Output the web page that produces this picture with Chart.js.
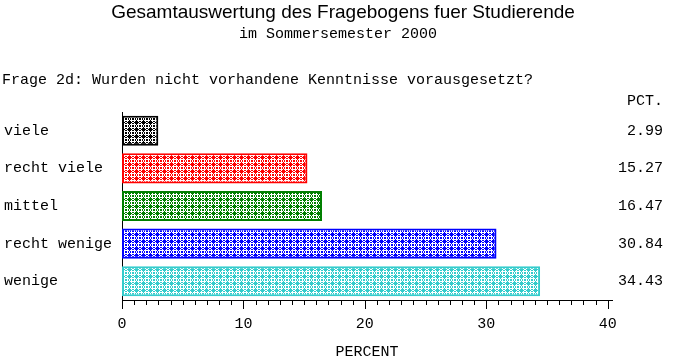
<!DOCTYPE html>
<html>
<head>
<meta charset="utf-8">
<script src="https://cdn.jsdelivr.net/npm/chart.js@4"></script>
<style>
  html, body { margin: 0; padding: 0; background: #fff; }
</style>
</head>
<body>
<canvas id="chart" width="685" height="364"></canvas>
<script>
const titleText = 'Gesamtauswertung des Fragebogens fuer Studierende';
const subtitleText = 'im Sommersemester 2000';
const questionText = 'Frage 2d: Wurden nicht vorhandene Kenntnisse vorausgesetzt?';
const categories = ['viele', 'recht viele', 'mittel', 'recht wenige', 'wenige'];
const percent = [2.99, 15.27, 16.47, 30.84, 34.43];
const pctLabels = ['2.99', '15.27', '16.47', '30.84', '34.43'];
const barColors = ['#000000', '#ff0000', '#008000', '#0000ff', '#33cccc'];
const majorTicks = [0, 10, 20, 30, 40];

const MONO = '"Liberation Mono", "DejaVu Sans Mono", monospace';

// little crosshatch with dots, like the old SAS fill patterns
function makePattern(color) {
  const c = document.createElement('canvas');
  c.width = 7; c.height = 7;
  const g = c.getContext('2d');
  g.fillStyle = '#fff';
  g.fillRect(0, 0, 7, 7);
  g.fillStyle = color;
  for (let y = 0; y < 7; y++) {
    for (let x = 0; x < 7; x++) {
      const ring = x >= 1 && x <= 5 && y >= 1 && y <= 5;
      if (!ring && (x + y) % 2 === 0) g.fillRect(x, y, 1, 1);
    }
  }
  g.fillRect(2, 2, 3, 3);
  g.fillRect(3, 1, 1, 1);
  g.fillRect(3, 5, 1, 1);
  g.fillRect(1, 3, 1, 1);
  g.fillRect(5, 3, 1, 1);
  return g.createPattern(c, 'repeat');
}

const headerText = {
  id: 'headerText',
  afterDraw(chart) {
    const ctx = chart.ctx;
    ctx.save();
    ctx.fillStyle = '#000';
    ctx.textBaseline = 'middle';
    ctx.textAlign = 'center';
    ctx.font = '19px "Liberation Sans", Arial, sans-serif';
    ctx.fillText(titleText, 343, 13);
    ctx.font = '15px ' + MONO;
    ctx.fillText(subtitleText, 338, 34);
    ctx.textAlign = 'left';
    ctx.fillText(questionText, 2, 80);
    ctx.textAlign = 'right';
    ctx.fillText('PCT.', 663, 101);
    ctx.restore();
  }
};

// x axis tick marks: long every 10, short every 1
const tickMarks = {
  id: 'tickMarks',
  afterDraw(chart) {
    const sc = chart.scales.x;
    const ctx = chart.ctx;
    ctx.save();
    ctx.strokeStyle = '#000';
    ctx.lineWidth = 1;
    ctx.beginPath();
    for (let v = 0; v <= 40; v++) {
      const px = Math.round(sc.getPixelForValue(v)) + 0.5;
      ctx.moveTo(px, sc.top);
      ctx.lineTo(px, sc.top + (v % 10 === 0 ? 9 : 5));
    }
    ctx.stroke();
    ctx.restore();
  }
};

const chart = new Chart(document.getElementById('chart').getContext('2d'), {
  type: 'bar',
  data: {
    labels: categories,
    datasets: [{
      data: percent,
      backgroundColor: barColors.map(makePattern),
      borderColor: barColors,
      borderWidth: 2,
      borderSkipped: false,
      barPercentage: 0.8,
      categoryPercentage: 1.0
    }]
  },
  options: {
    indexAxis: 'y',
    responsive: false,
    animation: false,
    layout: { padding: { top: 112, left: 4, right: 22, bottom: 0 } },
    plugins: { legend: { display: false }, tooltip: { enabled: false } },
    scales: {
      x: {
        min: 0,
        max: 40.35,
        afterBuildTicks: s => { s.ticks = majorTicks.map(v => ({ value: v })); },
        afterFit: s => { s.height = 64; },
        grid: { display: false },
        border: { display: true, color: '#000', width: 1 },
        ticks: { color: '#000', font: { family: MONO, size: 15 }, padding: 7, maxRotation: 0, autoSkip: false },
        title: { display: true, text: 'PERCENT', color: '#000', font: { family: MONO, size: 15 }, padding: { top: 0, bottom: 3 } }
      },
      y: {
        position: 'left',
        afterFit: s => { s.width = 118; },
        grid: { display: false },
        border: { display: true, color: '#000', width: 1 },
        ticks: { color: '#000', font: { family: MONO, size: 15 }, crossAlign: 'far', padding: 0 }
      },
      y2: {
        type: 'category',
        labels: pctLabels,
        position: 'right',
        offset: true,
        afterFit: s => { s.width = 51; },
        grid: { display: false },
        border: { display: false },
        ticks: { color: '#000', font: { family: MONO, size: 15 }, crossAlign: 'far', padding: 0 }
      }
    }
  },
  plugins: [headerText, tickMarks]
});
</script>
</body>
</html>
